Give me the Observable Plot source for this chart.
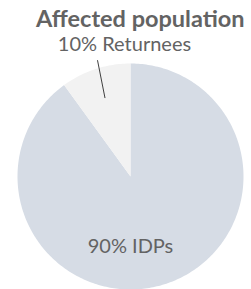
<!DOCTYPE html>
<html>
<head>
<meta charset="utf-8">
<script src="https://cdn.jsdelivr.net/npm/d3@7"></script>
<script src="https://cdn.jsdelivr.net/npm/@observablehq/plot@0.6"></script>
<style>
  html, body { margin: 0; padding: 0; background: #fff; }
  #wrap { width: 251px; height: 289px; overflow: hidden; position: relative; }
  #title { box-sizing: border-box; height: 32px; padding-top: 8px; line-height: 20px; margin-left: 36px;
           font-family: Lato, "Open Sans", sans-serif; font-weight: bold; font-size: 23.5px; color: #636363; white-space: nowrap; }
</style>
</head>
<body>
<div id="wrap">
  <div id="title">Affected population</div>
  <div id="chart"></div>
</div>
<script>
const categories = ["IDPs", "Returnees"];
const shares = [90, 10];
const labels = ["90% IDPs", "10% Returnees"];
const sliceColors = ["#d6dce5", "#f2f2f2"];

const data = categories.map((c, i) => ({category: c, value: shares[i], label: labels[i]}));
const arcs = d3.pie().sort(null).value(d => d.value)(data);

// polygon outlines of each slice in unit-radius coordinates
const points = [];
for (const a of arcs) {
  const cat = a.data.category;
  points.push({category: cat, x: 0, y: 0});
  const n = Math.max(2, Math.ceil((a.endAngle - a.startAngle) / (Math.PI / 180)));
  for (let k = 0; k <= n; k++) {
    const t = a.startAngle + (a.endAngle - a.startAngle) * k / n;
    points.push({category: cat, x: Math.sin(t), y: Math.cos(t)});
  }
  points.push({category: cat, x: 0, y: 0});
}

const mid = a => (a.startAngle + a.endAngle) / 2;
const ret = arcs[1];
// leader line from inside the slice to just outside the rim
const inner = {r: 0.73, t: mid(ret)};
const outer = {r: 1.07, t: ret.endAngle - (ret.endAngle - ret.startAngle) * 0.44};
const leader = [{
  x1: inner.r * Math.sin(inner.t), y1: inner.r * Math.cos(inner.t),
  x2: outer.r * Math.sin(outer.t), y2: outer.r * Math.cos(outer.t),
  label: ret.data.label
}];

const fontFamily = "Lato, 'Open Sans', sans-serif";

const chart = Plot.plot({
  width: 251,
  height: 257,
  marginLeft: 17,
  marginRight: 8,
  marginTop: 31,
  marginBottom: 0,
  x: {domain: [-1, 1], axis: null},
  y: {domain: [-1, 1], axis: null},
  color: {domain: categories, range: sliceColors},
  style: {fontFamily, overflow: "visible", background: "transparent"},
  marks: [
    Plot.line(points, {x: "x", y: "y", z: "category", fill: "category", stroke: "none", curve: "linear"}),
    Plot.link(leader, {x1: "x1", y1: "y1", x2: "x2", y2: "y2", stroke: "#404040", strokeWidth: 1}),
    Plot.text(leader, {x: "x2", y: "y2", text: "label", dx: 27, dy: -9, lineAnchor: "bottom",
      fill: "#636363", fontSize: 20, fontFamily}),
    Plot.text([arcs[0].data], {text: "label", frameAnchor: "bottom", dy: -37, lineAnchor: "bottom",
      fill: "#636363", fontSize: 20, fontFamily})
  ]
});
document.getElementById("chart").appendChild(chart);
</script>
</body>
</html>
